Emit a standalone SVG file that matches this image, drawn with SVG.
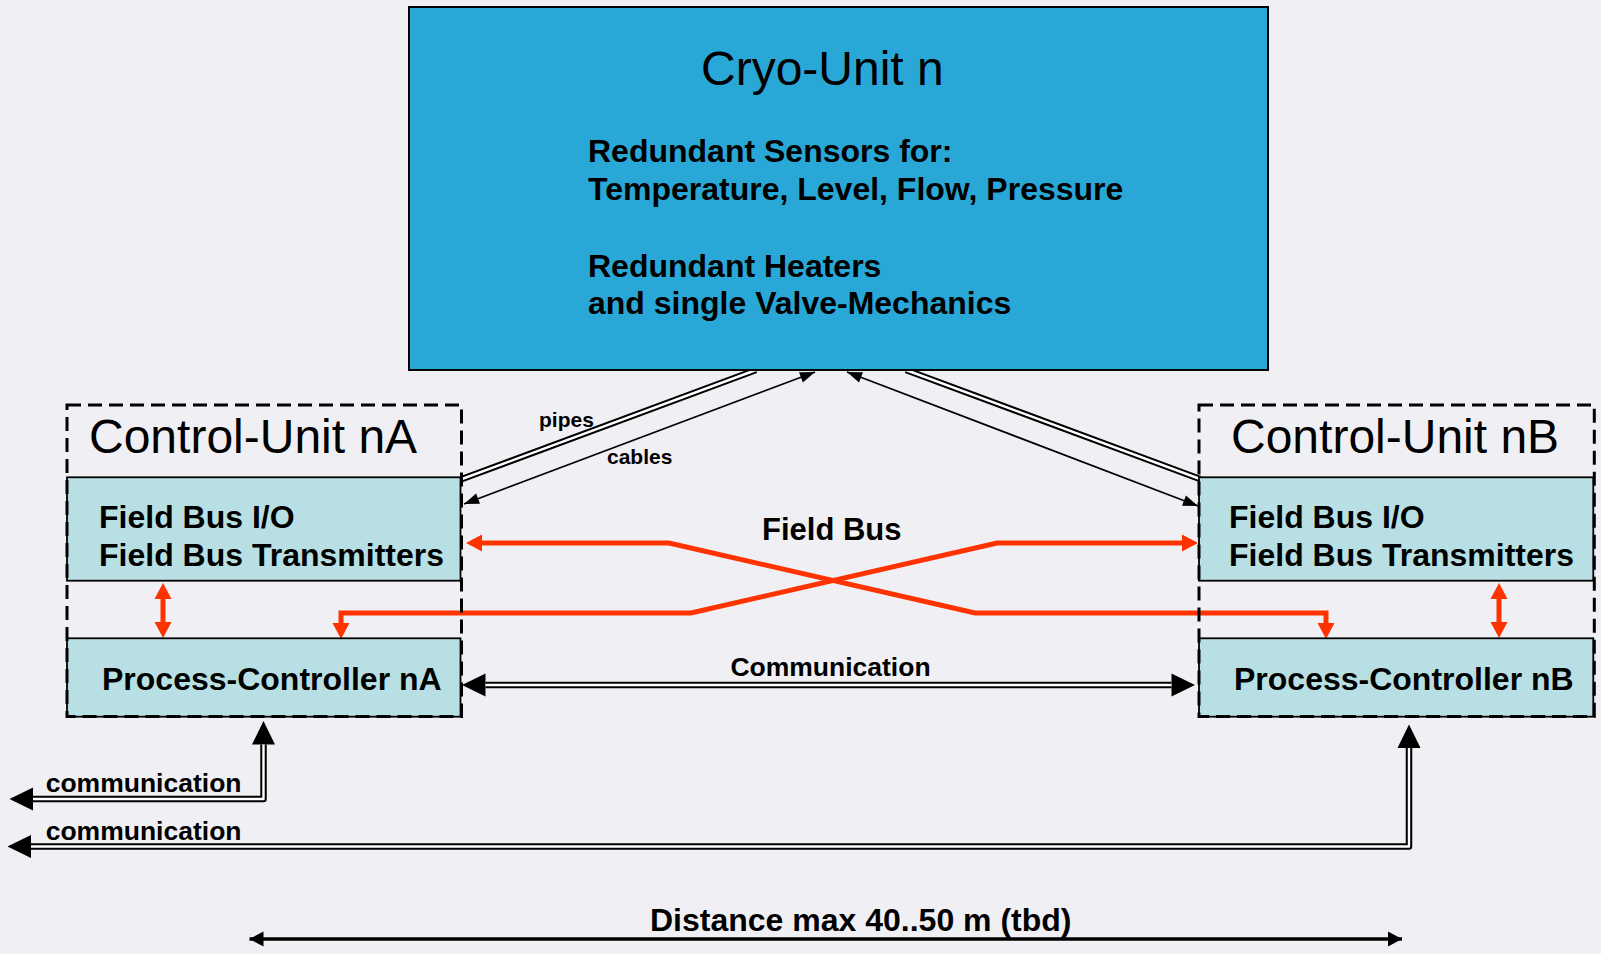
<svg xmlns="http://www.w3.org/2000/svg" width="1601" height="954" viewBox="0 0 1601 954">
  <style>
    .title { font-family: "Liberation Sans", Arial, sans-serif; font-size: 48px; fill: #000; }
    .bold32 { font-family: "Liberation Sans", Arial, sans-serif; font-size: 32px; font-weight: bold; fill: #000; }
    .bold26 { font-family: "Liberation Sans", Arial, sans-serif; font-size: 26.5px; font-weight: bold; fill: #000; }
    .small { font-family: "Liberation Sans", Arial, sans-serif; font-size: 21px; font-weight: bold; fill: #000; }
    .cyan { fill: #B8E0E4; stroke: #000; stroke-width: 1.8; }
    .unit { fill: none; stroke: #000; stroke-width: 3; stroke-dasharray: 14 7; }
    .bus { fill: none; stroke: #FF3300; stroke-width: 5; stroke-linejoin: miter; }
    .dbl-outer { fill: none; stroke: #000; stroke-width: 6.5; stroke-linejoin: round; }
    .dbl-inner { fill: none; stroke: #FFFFFF; stroke-width: 2.4; stroke-linejoin: round; }
    .thin { fill: none; stroke: #000; stroke-width: 1.7; }
  </style>
  <defs>
    <!-- red field-bus arrowhead, base at the path end -->
    <marker id="redHead" markerUnits="userSpaceOnUse" markerWidth="17" markerHeight="17" refX="0" refY="8.5" orient="auto-start-reverse" overflow="visible">
      <path d="M0,0 L16,8.5 L0,17 Z" fill="#FF3300"/>
    </marker>
    <!-- large black arrowhead for communication lines, base at the path end -->
    <marker id="commHead" markerUnits="userSpaceOnUse" markerWidth="24" markerHeight="23" refX="0" refY="11.5" orient="auto-start-reverse" overflow="visible">
      <path d="M0,0 L23.5,11.5 L0,23 Z" fill="#000"/>
    </marker>
    <!-- small arrowhead for cables, tip at the path end -->
    <marker id="cableHead" markerUnits="userSpaceOnUse" markerWidth="15" markerHeight="11" refX="15" refY="5.5" orient="auto-start-reverse" overflow="visible">
      <path d="M0,0 L15,5.5 L0,11 Z" fill="#000"/>
    </marker>
    <!-- arrowhead for the distance line, tip at the path end -->
    <marker id="distHead" markerUnits="userSpaceOnUse" markerWidth="14" markerHeight="15" refX="14" refY="7.5" orient="auto-start-reverse" overflow="visible">
      <path d="M0,0 L14,7.5 L0,15 Z" fill="#000"/>
    </marker>
  </defs>

  <rect x="0" y="0" width="1601" height="954" fill="#F0F0F4"/>

  <g id="connectors">
    <!-- pipes (double lines) -->
    <path class="dbl-outer" d="M462,479 L756,370"/>
    <path class="dbl-inner" d="M462,479 L756,370"/>
    <path class="dbl-outer" d="M906,370 L1200,479"/>
    <path class="dbl-inner" d="M906,370 L1200,479"/>
    <!-- cables -->
    <path class="thin" d="M464,504 L815,372" marker-start="url(#cableHead)" marker-end="url(#cableHead)"/>
    <path class="thin" d="M847,372 L1198,506" marker-start="url(#cableHead)" marker-end="url(#cableHead)"/>

    <!-- field bus links -->
    <path class="bus" d="M482,543 L669,543 L975,613 L1326,613 L1326,623" marker-start="url(#redHead)" marker-end="url(#redHead)"/>
    <path class="bus" d="M341,623 L341,613 L691,613 L997,543 L1182,543" marker-start="url(#redHead)" marker-end="url(#redHead)"/>
    <path class="bus" d="M163,599 L163,622" marker-start="url(#redHead)" marker-end="url(#redHead)"/>
    <path class="bus" d="M1499,599 L1499,622" marker-start="url(#redHead)" marker-end="url(#redHead)"/>

    <!-- communication between process controllers -->
    <path class="dbl-outer" d="M485.5,685 L1171.5,685" marker-start="url(#commHead)" marker-end="url(#commHead)"/>
    <path class="dbl-inner" d="M485.5,685 L1171.5,685"/>

    <!-- outgoing communication lines -->
    <path class="dbl-outer" d="M263.5,744.5 L263.5,799 L33,799" marker-start="url(#commHead)" marker-end="url(#commHead)"/>
    <path class="dbl-inner" d="M263.5,744.5 L263.5,799 L33,799"/>
    <path class="dbl-outer" d="M1409,748 L1409,846.5 L31,846.5" marker-start="url(#commHead)" marker-end="url(#commHead)"/>
    <path class="dbl-inner" d="M1409,748 L1409,846.5 L31,846.5"/>

    <!-- distance dimension -->
    <path d="M249.5,939 L1402,939" stroke="#000" stroke-width="3.5" fill="none" marker-start="url(#distHead)" marker-end="url(#distHead)"/>

    <text class="small" x="539" y="427">pipes</text>
    <text class="small" x="607" y="464">cables</text>
    <text class="bold32" x="762" y="540" style="font-size:31px">Field Bus</text>
    <text class="bold26" x="830.5" y="676" text-anchor="middle">Communication</text>
    <text class="bold26" x="45.7" y="791.7">communication</text>
    <text class="bold26" x="45.7" y="840">communication</text>
    <text class="bold32" x="650" y="931">Distance max 40..50 m (tbd)</text>
  </g>

  <g id="cryo-unit">
    <rect x="409" y="7" width="859" height="363" fill="#29A8D8" stroke="#000" stroke-width="2"/>
    <text class="title" x="701" y="85">Cryo-Unit n</text>
    <text class="bold32" x="588" y="162">Redundant Sensors for:</text>
    <text class="bold32" x="588" y="200">Temperature, Level, Flow, Pressure</text>
    <text class="bold32" x="588" y="277">Redundant Heaters</text>
    <text class="bold32" x="588" y="314">and single Valve-Mechanics</text>
  </g>

  <g id="control-unit-a">
    <rect class="cyan" x="67" y="477.3" width="393.5" height="103.4"/>
    <rect class="cyan" x="67" y="638.3" width="393.5" height="78.4"/>
    <rect class="unit" x="67" y="405" width="394.5" height="311.5"/>
    <text class="title" x="89" y="452.7">Control-Unit nA</text>
    <text class="bold32" x="99" y="528">Field Bus I/O</text>
    <text class="bold32" x="99" y="566">Field Bus Transmitters</text>
    <text class="bold32" x="102" y="690">Process-Controller nA</text>
  </g>

  <g id="control-unit-b">
    <rect class="cyan" x="1199" y="477.3" width="394.3" height="103.4"/>
    <rect class="cyan" x="1199" y="638.3" width="394.3" height="78.4"/>
    <rect class="unit" x="1199" y="405" width="395.3" height="311.5"/>
    <text class="title" x="1231" y="452.7">Control-Unit nB</text>
    <text class="bold32" x="1229" y="528">Field Bus I/O</text>
    <text class="bold32" x="1229" y="566">Field Bus Transmitters</text>
    <text class="bold32" x="1234" y="690">Process-Controller nB</text>
  </g>
</svg>
